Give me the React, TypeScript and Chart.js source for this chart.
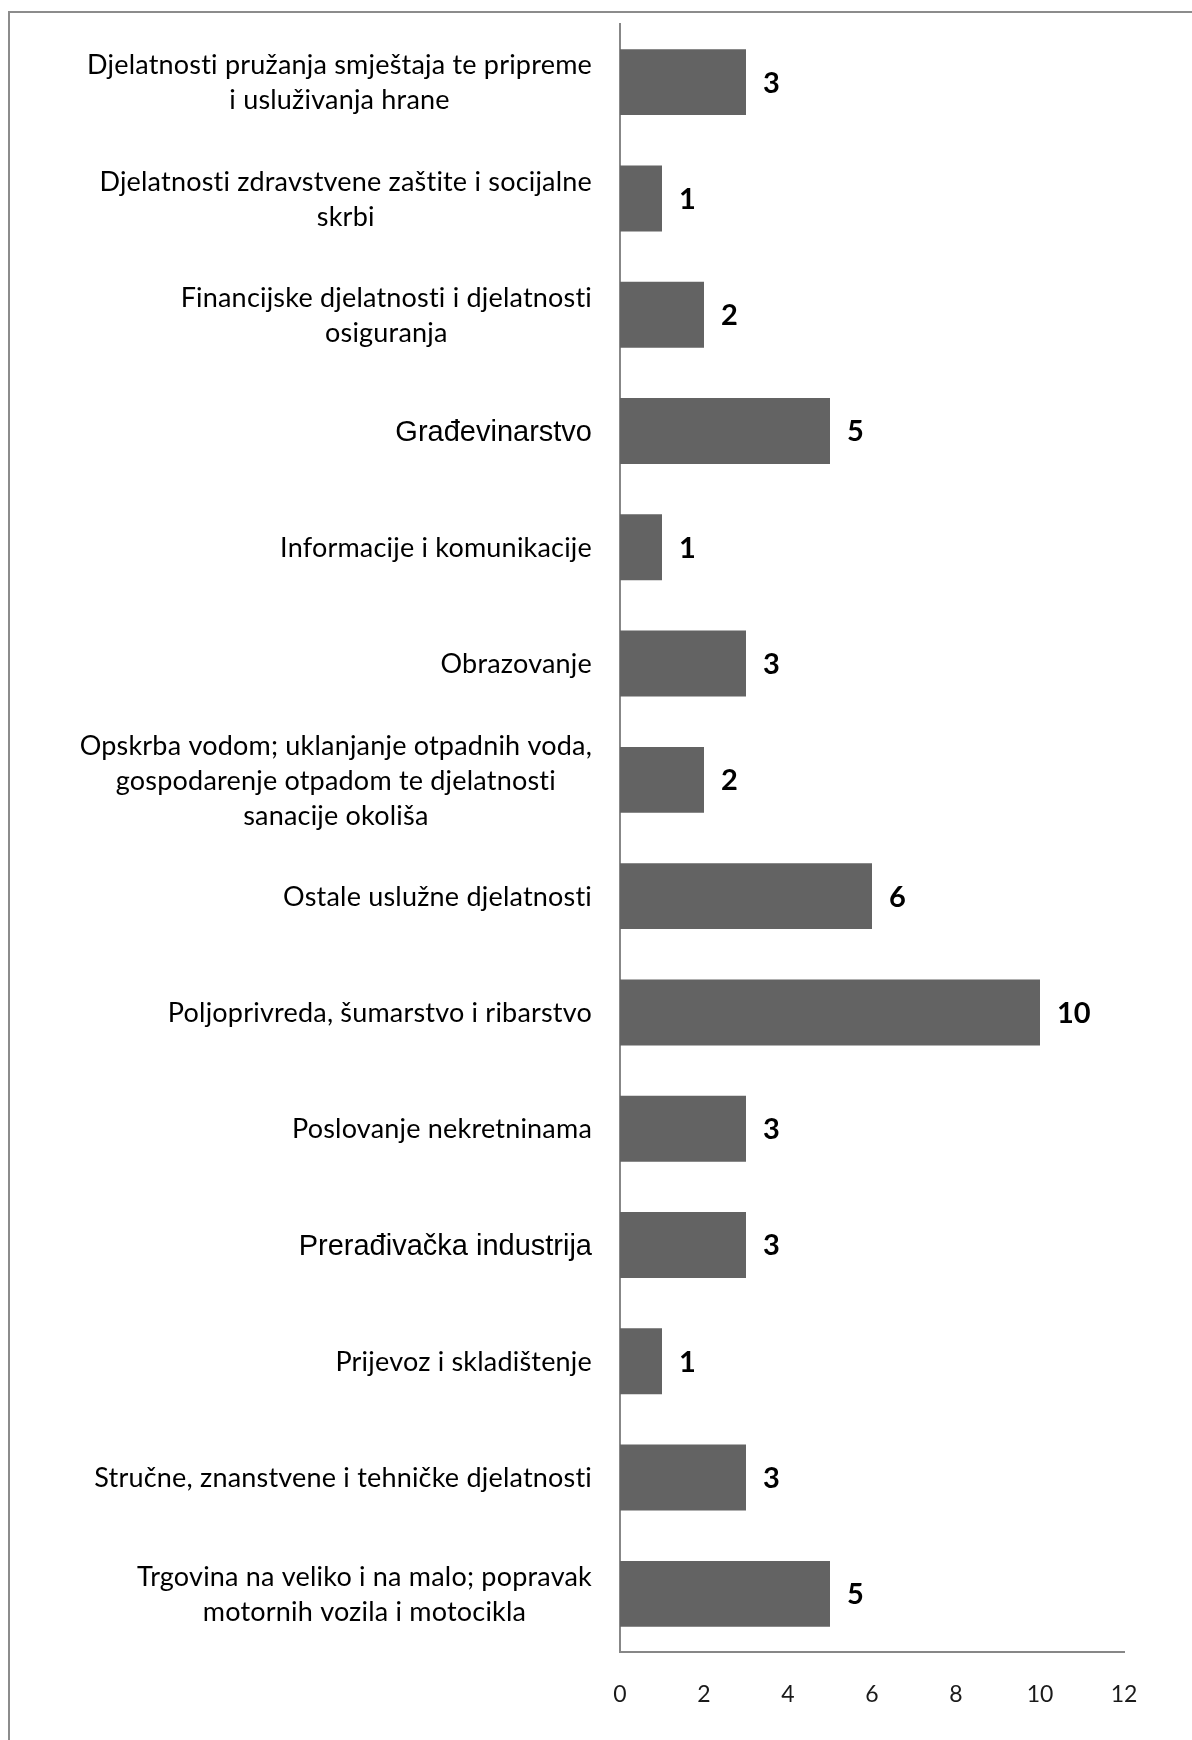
import React, { useEffect, useRef } from "react";
import { Chart, registerables } from "chart.js";

Chart.register(...registerables);

// ---------------- data ----------------
const categories: string[][] = [
  ["Djelatnosti pružanja smještaja te pripreme", "i usluživanja hrane"],
  ["Djelatnosti zdravstvene zaštite i socijalne", "skrbi"],
  ["Financijske djelatnosti i djelatnosti", "osiguranja"],
  ["Građevinarstvo"],
  ["Informacije i komunikacije"],
  ["Obrazovanje"],
  ["Opskrba vodom; uklanjanje otpadnih voda,", "gospodarenje otpadom te djelatnosti", "sanacije okoliša"],
  ["Ostale uslužne djelatnosti"],
  ["Poljoprivreda, šumarstvo i ribarstvo"],
  ["Poslovanje nekretninama"],
  ["Prerađivačka industrija"],
  ["Prijevoz i skladištenje"],
  ["Stručne, znanstvene i tehničke djelatnosti"],
  ["Trgovina na veliko i na malo; popravak", "motornih vozila i motocikla"],
];

const values: number[] = [3, 1, 2, 5, 1, 3, 2, 6, 10, 3, 3, 1, 3, 5];

const xMin = 0;
const xMax = 12;
const xStep = 2;

// ---------------- styling ----------------
const W = 1192;
const H = 1740;
const ARIAL_LABELS = [3, 10];
const LATO_LABEL = { size: 27, font: "27px Lato", cap: 0.7165, spacing: "0.2px" };
const ARIAL_LABEL = { size: 29, font: '29px "Liberation Sans"', cap: 0.716, spacing: "0px" };
const VALUE_FONT = { size: 29, font: "bold 29px Lato", cap: 0.7165 };
const AXIS_COLOR = "#878787";
const BAR_COLOR = "#636363";

export default function App() {
  const ref = useRef<HTMLCanvasElement | null>(null);

  useEffect(() => {
    let chart: Chart | null = null;
    let cancelled = false;

    const framePlugin = {
      id: "frame",
      beforeDraw(c: any) {
        const ctx = c.ctx;
        ctx.save();
        ctx.fillStyle = "#ffffff";
        ctx.fillRect(0, 0, c.width, c.height);
        ctx.strokeStyle = "#8c8c8c";
        ctx.lineWidth = 2;
        ctx.beginPath();
        ctx.moveTo(9, H + 2);
        ctx.lineTo(9, 12);
        ctx.lineTo(W + 2, 12);
        ctx.stroke();
        ctx.restore();
      },
    };

    const labelPlugin = {
      id: "catLabels",
      afterDraw(c: any) {
        const ctx = c.ctx;
        const yScale = c.scales.y;
        const right = c.chartArea.left - 28;
        ctx.save();
        ctx.fillStyle = "#000000";
        ctx.textAlign = "center";
        ctx.textBaseline = "alphabetic";
        categories.forEach((lines, i) => {
          const f = ARIAL_LABELS.includes(i) ? ARIAL_LABEL : LATO_LABEL;
          ctx.font = f.font;
          if ("letterSpacing" in ctx) (ctx as any).letterSpacing = f.spacing;
          const lh = 35;
          const maxW = Math.max(...lines.map((l) => ctx.measureText(l).width));
          const cx = right - maxW / 2;
          const cy = yScale.getPixelForValue(i);
          const capHalf = (f.size * f.cap) / 2;
          lines.forEach((l, j) => {
            ctx.fillText(l, cx, cy + (j - (lines.length - 1) / 2) * lh + capHalf);
          });
        });
        ctx.restore();
      },
    };

    const valuePlugin = {
      id: "valueLabels",
      afterDatasetsDraw(c: any) {
        const ctx = c.ctx;
        const meta = c.getDatasetMeta(0);
        ctx.save();
        ctx.font = VALUE_FONT.font;
        ctx.fillStyle = "#000000";
        ctx.textAlign = "left";
        ctx.textBaseline = "alphabetic";
        const capHalf = (VALUE_FONT.size * VALUE_FONT.cap) / 2;
        meta.data.forEach((bar: any, i: number) => {
          ctx.fillText(String(values[i]), bar.x + 17, bar.y + capHalf);
        });
        ctx.restore();
      },
    };

    const make = () => {
      if (cancelled || !ref.current) return;
      chart = new Chart(ref.current, {
        type: "bar",
        data: {
          labels: categories,
          datasets: [
            {
              data: values,
              backgroundColor: BAR_COLOR,
              borderWidth: 0,
              categoryPercentage: 1,
              barPercentage: 0.567,
            },
          ],
        },
        options: {
          indexAxis: "y",
          animation: false,
          responsive: true,
          maintainAspectRatio: false,
          devicePixelRatio: 1,
          layout: { padding: { top: 24, right: 68, left: 0, bottom: 0 } },
          plugins: {
            legend: { display: false },
            tooltip: { enabled: false },
            title: { display: false },
          },
          scales: {
            x: {
              type: "linear",
              min: xMin,
              max: xMax,
              ticks: {
                stepSize: xStep,
                font: { family: "Lato", size: 23 },
                color: "#1a1a1a",
                padding: 29,
              },
              grid: { display: false, drawTicks: false },
              border: { display: true, color: AXIS_COLOR, width: 2 },
              afterFit: (s: any) => {
                s.height = 88;
              },
            },
            y: {
              type: "category",
              ticks: { display: false },
              grid: { display: false, drawTicks: false },
              border: { display: true, color: AXIS_COLOR, width: 2 },
              afterFit: (s: any) => {
                s.width = 620;
              },
            },
          },
        } as any,
        plugins: [framePlugin, labelPlugin, valuePlugin],
      });
    };

    const loads = [
      "27px Lato",
      "bold 29px Lato",
      "23px Lato",
      '29px "Liberation Sans"',
    ].map((f) => (document as any).fonts.load(f, "Građevinarstvo šč 0123"));
    Promise.all(loads).then(make, make);

    return () => {
      cancelled = true;
      if (chart) chart.destroy();
    };
  }, []);

  return (
    <div style={{ position: "absolute", left: 0, top: 0, width: W, height: H }}>
      <canvas ref={ref} />
    </div>
  );
}
